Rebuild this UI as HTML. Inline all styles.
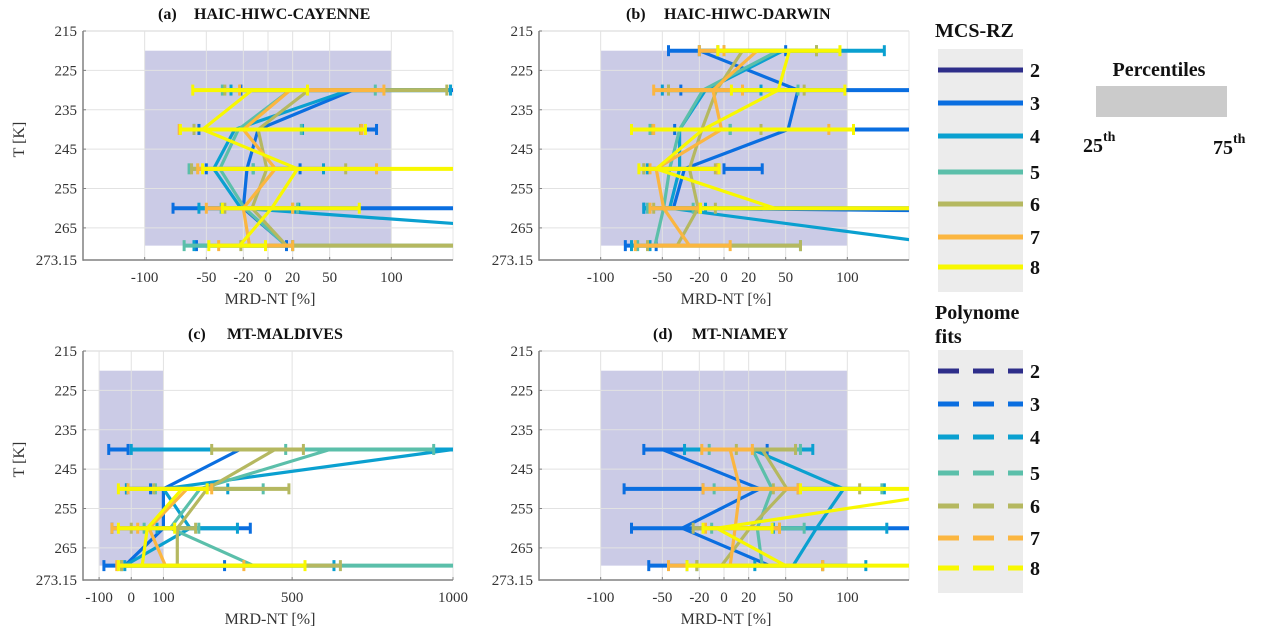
<!DOCTYPE html>
<html><head><meta charset="utf-8">
<style>
body{margin:0;background:#fff;width:1263px;height:637px;overflow:hidden;font-family:"Liberation Serif",serif;}
svg text{font-family:"Liberation Serif",serif;}
</style></head>
<body>
<svg id="fig" width="1263" height="637" viewBox="0 0 1263 637" xmlns="http://www.w3.org/2000/svg"></svg>
<script>
const seriesNames = ['2','3','4','5','6','7','8'];
const seriesColors = ['#2e2e8a','#0a6ee0','#0aa0d0','#5bbfaa','#b5b860','#fbb640','#f8f800'];
const yTicks = [215,225,235,245,255,265,273.15];

// Panel (a)
const aLevels = [230,240,250,260,269.5];
const aMed = [[null,null,null,null,null],[69,-8,-17,-20,15],[66,-27,-44,-22,400],[18,-24,-39,-19,15],[33,-8,-1,-13,15],[18,-20,6,-20,-15],[-13,-53,24,3,-23]];
const aLo  = [[null,null,null,null,null],[-22,-56,-50,-77,-58],[-30,-60,-12,-56,-60],[-37,-60,-64,-38,-68],[-35,-60,-62,-35,-22],[-23,-72,-57,-50,-40],[-61,-71,-53,-37,-48]];
const aHi  = [[null,null,null,null,null],[300,88,26,300,15],[148,28,45,25,20],[87,27,-12,24,300],[145,75,63,20,300],[94,76,88,20,20],[32,79,300,74,-2]];

// Panel (b)
const bLevels = [220,230,240,250,260,269.5];
const bMed = [[null,null,null,null,null,null],[-20,60,52,-32,-41,3000],[48,-15,-36,-36,-44,187],[44,-17,-36,-44,-49,-56],[15,-6,-18,-28,-21,-38],[27,-9,-2,-55,-49,-28],[53,44,-17,-55,41,null]];
const bLo  = [[null,null,null,null,null,null],[-45,-35,-40,0,-65,-80],[-20,-50,-60,-62,-65,-75],[0,-45,-60,-65,-62,-70],[-5,-45,-58,-65,-57,-62],[-20,-57,-57,-60,-60,-72],[-5,6,-75,-69,-19,null]];
const bHi  = [[null,null,null,null,null,null],[50,300,300,31,300,-55],[130,30,5,-5,-15,-60],[75,60,5,-5,-25,62],[75,65,30,-7,-7,62],[0,15,85,-5,-20,5],[94,98,105,-4,300,null]];

// Panel (c)
const cLevels = [240,250,260,269.5];
const cMed = [[null,null,null,null],[338,100,100,-20],[1000,100,183,-20],[618,214,121,380],[447,236,143,143],[null,174,55,106],[null,158,50,34]];
const cLo  = [[null,null,null,null],[-70,-15,-60,-85],[0,-15,80,-20],[480,75,40,-30],[250,70,0,-30],[null,-10,-60,-45],[null,-40,-40,-40]];
const cHi  = [[null,null,null,null],[-10,60,370,290],[1100,300,330,630],[940,410,210,1100],[535,490,200,650],[null,250,20,350],[null,236,135,540]];

// Panel (d)
const dLevels = [240,250,260,269.5];
const dMed = [[null,null,null,null],[-50,29,-34,37],[23,97,75,56],[23,39,27,31],[31,51,21,-2],[5,13,9,5],[null,205,-6,50]];
const dLo  = [[null,null,null,null],[-65,-81,-75,-61],[-32,60,40,25],[-12,-8,-10,-22],[10,40,-25,-22],[-18,-17,-15,-45],[null,62,-17,-30]];
const dHi  = [[null,null,null,null],[35,-17,300,-30],[72,130,132,115],[62,128,65,80],[58,110,45,80],[23,60,45,80],[null,300,39,300]];

const NS='http://www.w3.org/2000/svg';
const svg=document.getElementById('fig');
function mk(tag,attrs,parent){const e=document.createElementNS(NS,tag);for(const k in attrs)e.setAttribute(k,attrs[k]);(parent||svg).appendChild(e);return e;}

function panel(id,label,title,L,T,xMin,xMax,xTicks,levels,med,lo,hi,labX,titX){
  const W=370,H=229,R=L+W,B=T+H;
  const sx=v=>L+(v-xMin)/(xMax-xMin)*W;
  const sy=v=>T+(v-215)/(273.15-215)*H;
  const g=mk('g',{});
  
  
  const cp=mk('clipPath',{id:'clip'+id},g);
  mk('rect',{x:L,y:T,width:W,height:H},cp);
  const sh=mk('rect',{x:sx(-100),y:sy(220),width:sx(100)-sx(-100),height:sy(269.5)-sy(220),fill:'#cbcbe6'},g);
  
  
  mk('line',{x1:L,y1:T,x2:R,y2:T,stroke:'#e6e6e6','stroke-width':1.5},g);
  mk('line',{x1:R,y1:T,x2:R,y2:B,stroke:'#e6e6e6','stroke-width':1},g);
  xTicks.forEach(t=>{mk('line',{x1:sx(t),y1:T,x2:sx(t),y2:B,stroke:'#e2e2e2','stroke-width':1},g);});
  yTicks.forEach(t=>{mk('line',{x1:L,y1:sy(t),x2:R,y2:sy(t),stroke:'#e2e2e2','stroke-width':1},g);});
  const sg=mk('g',{'clip-path':'url(#clip'+id+')'},g);
  for(let s=0;s<med.length;s++){
    const col=seriesColors[s];
    const pts=[];
    levels.forEach((lv,i)=>{if(med[s][i]!==null)pts.push(sx(med[s][i]).toFixed(1)+','+sy(lv).toFixed(1));});
    if(pts.length>1){
      const pl=mk('polyline',{points:pts.join(' '),fill:'none',stroke:col,'stroke-width':3.2,'stroke-linejoin':'round'},sg);
      
      
    }
    levels.forEach((lv,i)=>{
      if(lo[s][i]===null)return;
      const y=sy(lv),x1=sx(lo[s][i]),x2=sx(hi[s][i]);
      const eb=mk('g',{},sg);
      
      
      mk('line',{x1:x1,y1:y,x2:x2,y2:y,stroke:col,'stroke-width':4},eb);
      mk('line',{x1:x1,y1:y-5.5,x2:x1,y2:y+5.5,stroke:col,'stroke-width':3},eb);
      mk('line',{x1:x2,y1:y-5.5,x2:x2,y2:y+5.5,stroke:col,'stroke-width':3},eb);
    });
  }
  mk('line',{x1:L,y1:T,x2:L,y2:B+0.75,stroke:'#808080','stroke-width':1.5},g);
  mk('line',{x1:L,y1:B,x2:R,y2:B,stroke:'#808080','stroke-width':1.5},g);
  xTicks.forEach(t=>{
    mk('line',{x1:sx(t),y1:B,x2:sx(t),y2:B-3,stroke:'#808080','stroke-width':1},g);
    const tx=mk('text',{x:sx(t),y:B+22,'font-size':15,'text-anchor':'middle',fill:'#333'},g);
    tx.textContent=t;
    
    
  });
  yTicks.forEach(t=>{
    mk('line',{x1:L,y1:sy(t),x2:L+3,y2:sy(t),stroke:'#808080','stroke-width':1},g);
    const tx=mk('text',{x:L-6,y:sy(t)+5,'font-size':15,'text-anchor':'end',fill:'#333'},g);
    tx.textContent=t;
    
    
  });
  const xl=mk('text',{x:L+W/2+2,y:B+44,'font-size':16,'text-anchor':'middle',fill:'#333'},g);
  xl.textContent='MRD-NT [%]';
  
  
  if(L<200){
    const yl=mk('text',{x:0,y:0,'font-size':16,'text-anchor':'middle',fill:'#333',transform:'translate('+(L-59)+','+(T+H/2-6)+') rotate(-90)'},g);
    yl.textContent='T [K]';
    
    
  }
  const tl=mk('text',{x:labX,y:T-12,'font-size':16,'font-weight':'bold',fill:'#111'},g);
  tl.textContent=label;
  
  
  const tt=mk('text',{x:titX,y:T-12,'font-size':16,'font-weight':'bold',fill:'#111'},g);
  tt.textContent=title;
  
  
}
const xt1=[-100,-50,-20,0,20,50,100];
panel('a','(a)','HAIC-HIWC-CAYENNE',83,31,-150,150,xt1,aLevels,aMed,aLo,aHi,158,194);
panel('b','(b)','HAIC-HIWC-DARWIN',539,31,-150,150,xt1,bLevels,bMed,bLo,bHi,626,664);
panel('c','(c)','MT-MALDIVES',83,351,-150,1000,[-100,0,100,500,1000],cLevels,cMed,cLo,cHi,188,227);
panel('d','(d)','MT-NIAMEY',539,351,-150,150,xt1,dLevels,dMed,dLo,dHi,653,692);

function legend(name,titleLines,titleY,boxY,rowYs,dashed){
  const g=mk('g',{});
  
  
  titleLines.forEach((t,i)=>{const tx=mk('text',{x:935,y:titleY+i*24,'font-size':20,'font-weight':'bold',fill:'#111'},g);tx.textContent=t;});
  mk('rect',{x:938,y:boxY,width:85,height:243,fill:'#ececec'},g);
  rowYs.forEach((y,i)=>{
    const e=mk('g',{},g);
    
    
    const ln=mk('line',{x1:938,y1:y,x2:1023,y2:y,stroke:seriesColors[i],'stroke-width':5},e);
    if(dashed)ln.setAttribute('stroke-dasharray','21 14');
    const tx=mk('text',{x:1030,y:y+7,'font-size':20,'font-weight':'bold',fill:'#111'},e);
    tx.textContent=seriesNames[i];
  });
}
legend('legend-mcs-rz',['MCS-RZ'],37,49,[70,103,136,172,204,237,267],false);
legend('legend-polynome-fits',['Polynome','fits'],319,350,[371,404,437,473,506,538,568],true);
const pg=mk('g',{});


const pt=mk('text',{x:1159,y:76,'font-size':20,'font-weight':'bold','text-anchor':'middle',fill:'#111'},pg);pt.textContent='Percentiles';
mk('rect',{x:1096,y:86,width:131,height:31,fill:'#cbcbcb'},pg);
const p25=mk('text',{x:1083,y:152,'font-size':20,'font-weight':'bold',fill:'#111'},pg);p25.innerHTML='25<tspan dy="-11" font-size="14">th</tspan>';
const p75=mk('text',{x:1213,y:154,'font-size':20,'font-weight':'bold',fill:'#111'},pg);p75.innerHTML='75<tspan dy="-11" font-size="14">th</tspan>';
</script>
</body></html>
